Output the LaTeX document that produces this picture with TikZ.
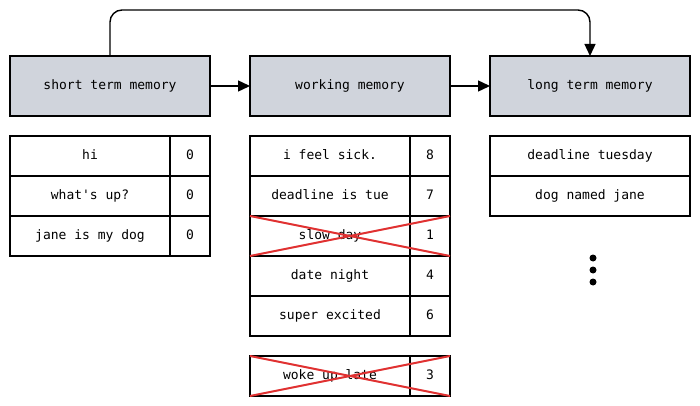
\documentclass[tikz,border=0pt]{standalone}
\usepackage{fontspec}
\setmainfont{DejaVu Sans Mono}
\usepackage{textcomp}
\usetikzlibrary{positioning, arrows.meta}
\definecolor{hdr}{HTML}{D0D4DC}
\definecolor{cross}{HTML}{E03131}
\begin{document}
\begin{tikzpicture}[x=1pt, y=-1pt,
    every node/.style={outer sep=0pt, inner sep=0pt, text height=9pt, text depth=2.5pt, font=\fontsize{13}{15}\selectfont},
    hd/.style={draw, line width=1.4pt, fill=hdr, minimum width=200pt, minimum height=60pt},
    txt/.style={draw, line width=1.4pt, minimum width=160pt, minimum height=40pt},
    num/.style={draw, line width=1.4pt, minimum width=40pt, minimum height=40pt},
    wide/.style={txt, minimum width=200pt},
    arr/.style={-{Triangle[length=12pt, width=11pt]}, line width=1.4pt},
    strike/.style={cross, line width=2pt}
  ]
  \useasboundingbox (0,0) rectangle (700,406);

  \node[hd] (stm) at (110,86) {short term memory};
  \node[hd] (wm) at (350,86) {working memory};
  \node[hd] (ltm) at (590,86) {long term memory};

  \draw[arr] (stm) -- (wm);
  \draw[arr] (wm) -- (ltm);
  \draw[arr, rounded corners=12pt] (stm.north) |- (350,10) -| (ltm.north);

  % short term
  \node[txt] (s1) at (90,156) {hi};
  \node[num, right=0pt of s1] (s1n) {0};
  \node[txt, below=0pt of s1] (s2) {what\textquotesingle s up?};
  \node[num, right=0pt of s2] (s2n) {0};
  \node[txt, below=0pt of s2] (s3) {jane is my dog};
  \node[num, right=0pt of s3] (s3n) {0};

  % working
  \node[txt] (w1) at (330,156) {i feel sick.};
  \node[num, right=0pt of w1] (w1n) {8};
  \node[txt, below=0pt of w1] (w2) {deadline is tue};
  \node[num, right=0pt of w2] (w2n) {7};
  \node[txt, below=0pt of w2] (w3) {slow day};
  \node[num, right=0pt of w3] (w3n) {1};
  \node[txt, below=0pt of w3] (w4) {date night};
  \node[num, right=0pt of w4] (w4n) {4};
  \node[txt, below=0pt of w4] (w5) {super excited};
  \node[num, right=0pt of w5] (w5n) {6};
  \node[txt, below=20pt of w5] (w6) {woke up late};
  \node[num, right=0pt of w6] (w6n) {3};

  \draw[strike] (w3.north west) -- (w3n.south east);
  \draw[strike] (w3.south west) -- (w3n.north east);
  \draw[strike] (w6.north west) -- (w6n.south east);
  \draw[strike] (w6.south west) -- (w6n.north east);

  % long term
  \node[wide] (l1) at (590,156) {deadline tuesday};
  \node[wide, below=0pt of l1] (l2) {dog named jane};
  \foreach \y in {258,270,282}
    \fill (593,\y) circle (3.5pt);
\end{tikzpicture}
\end{document}
